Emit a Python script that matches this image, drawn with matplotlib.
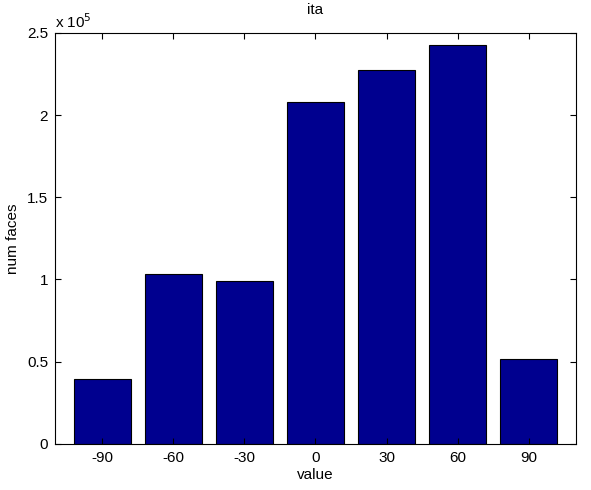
import matplotlib
matplotlib.use("Agg")
import matplotlib.pyplot as plt
from matplotlib.ticker import FuncFormatter, MultipleLocator

# angle bins and face counts
angles = [-90, -60, -30, 0, 30, 60, 90]
counts = [39400, 103200, 99000, 207800, 227300, 242700, 51500]

plt.rcParams['font.family'] = ['Liberation Sans', 'DejaVu Sans']
plt.rcParams['font.size'] = 11
plt.rcParams['axes.unicode_minus'] = False

fig = plt.figure(figsize=(5.91, 4.90), dpi=100)
ax = fig.add_axes([0.093, 0.094, 0.8816, 0.839])

ax.bar(angles, counts, width=24, color='#00008F', edgecolor='black', linewidth=0.8)

ax.set_xlim(-110, 110)
ax.set_ylim(0, 2.5e5)
ax.set_xticks(angles)
ax.yaxis.set_major_locator(MultipleLocator(0.5e5))
ax.yaxis.set_major_formatter(FuncFormatter(lambda v, p: '%g' % (v / 1e5)))
ax.tick_params(direction='in', top=True, right=True, length=4, width=0.8, pad=5)
for s in ax.spines.values():
    s.set_linewidth(0.8)

ax.text(0.0, 1.005, r'x 10$^{5}$', transform=ax.transAxes, ha='left', va='bottom')
ax.set_title('ita', fontsize=11, pad=13.5)
ax.set_xlabel('value', labelpad=2)
ax.set_ylabel('num faces', labelpad=5)

fig.savefig('out.png', dpi=100)
